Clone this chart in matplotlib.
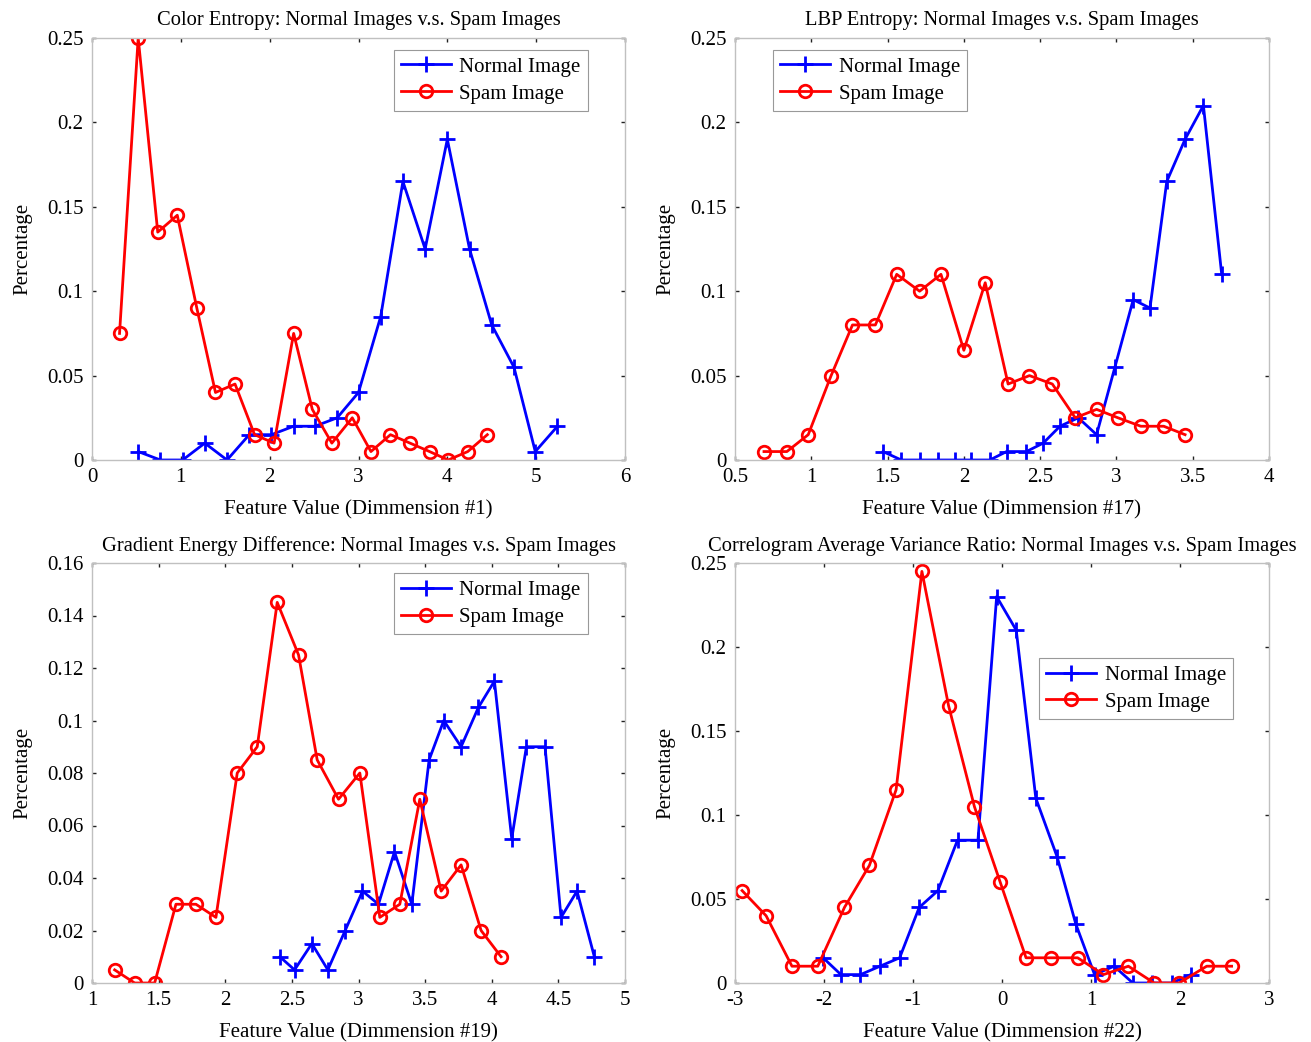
import matplotlib
matplotlib.use("Agg")
import matplotlib.pyplot as plt

plt.rcParams["font.family"] = ["Liberation Serif", "DejaVu Serif"]
plt.rcParams["font.size"] = 15

# Color Entropy (Dimmension #1)
ce_normal_x = [0.52, 0.77, 1.02, 1.27, 1.52, 1.77, 2.02, 2.27, 2.51, 2.76,
               3.00, 3.25, 3.50, 3.75, 4.00, 4.25, 4.50, 4.75, 4.99, 5.24]
ce_normal_y = [0.005, 0, 0, 0.01, 0, 0.015, 0.015, 0.02, 0.02, 0.025,
               0.04, 0.085, 0.165, 0.125, 0.19, 0.125, 0.08, 0.055, 0.005, 0.02]
ce_spam_x = [0.31, 0.52, 0.74, 0.96, 1.18, 1.39, 1.61, 1.83, 2.05, 2.27,
             2.48, 2.70, 2.93, 3.14, 3.36, 3.58, 3.80, 4.01, 4.23, 4.45]
ce_spam_y = [0.075, 0.25, 0.135, 0.145, 0.09, 0.04, 0.045, 0.015, 0.01, 0.075,
             0.03, 0.01, 0.025, 0.005, 0.015, 0.01, 0.005, 0, 0.005, 0.015]

# LBP Entropy (Dimmension #17)
lbp_normal_x = [1.47, 1.59, 1.71, 1.83, 1.94, 2.05, 2.17, 2.28, 2.41, 2.52,
                2.63, 2.75, 2.87, 2.99, 3.11, 3.22, 3.33, 3.45, 3.57, 3.69]
lbp_normal_y = [0.005, 0, 0, 0, 0, 0, 0, 0.005, 0.005, 0.01,
                0.02, 0.025, 0.015, 0.055, 0.095, 0.09, 0.165, 0.19, 0.21, 0.11]
lbp_spam_x = [0.69, 0.84, 0.98, 1.13, 1.27, 1.42, 1.56, 1.71, 1.85, 2.00,
              2.14, 2.29, 2.43, 2.58, 2.73, 2.87, 3.01, 3.16, 3.31, 3.45]
lbp_spam_y = [0.005, 0.005, 0.015, 0.05, 0.08, 0.08, 0.11, 0.1, 0.11, 0.065,
              0.105, 0.045, 0.05, 0.045, 0.025, 0.03, 0.025, 0.02, 0.02, 0.015]

# Gradient Energy Difference (Dimmension #19)
ged_normal_x = [2.41, 2.52, 2.65, 2.77, 2.90, 3.03, 3.15, 3.27, 3.40, 3.53,
                3.64, 3.77, 3.90, 4.02, 4.15, 4.26, 4.40, 4.52, 4.64, 4.77]
ged_normal_y = [0.01, 0.005, 0.015, 0.005, 0.02, 0.035, 0.03, 0.05, 0.03, 0.085,
                0.1, 0.09, 0.105, 0.115, 0.055, 0.09, 0.09, 0.025, 0.035, 0.01]
ged_spam_x = [1.17, 1.32, 1.47, 1.63, 1.78, 1.93, 2.09, 2.24, 2.39, 2.55,
              2.69, 2.85, 3.01, 3.16, 3.31, 3.46, 3.62, 3.77, 3.92, 4.07]
ged_spam_y = [0.005, 0, 0, 0.03, 0.03, 0.025, 0.08, 0.09, 0.145, 0.125,
              0.085, 0.07, 0.08, 0.025, 0.03, 0.07, 0.035, 0.045, 0.02, 0.01]

# Correlogram Average Variance Ratio (Dimmension #22)
cav_normal_x = [-2.01, -1.81, -1.59, -1.37, -1.15, -0.93, -0.72, -0.50, -0.27, -0.06,
                0.16, 0.38, 0.62, 0.83, 1.04, 1.26, 1.47, 1.69, 1.91, 2.12]
cav_normal_y = [0.015, 0.005, 0.005, 0.01, 0.015, 0.045, 0.055, 0.085, 0.085, 0.23,
                0.21, 0.11, 0.075, 0.035, 0.005, 0.01, 0, 0, 0, 0.005]
cav_spam_x = [-2.92, -2.65, -2.36, -2.07, -1.77, -1.49, -1.19, -0.90, -0.60, -0.31,
              -0.02, 0.27, 0.55, 0.85, 1.14, 1.42, 1.71, 1.99, 2.30, 2.58]
cav_spam_y = [0.055, 0.04, 0.01, 0.01, 0.045, 0.07, 0.115, 0.245, 0.165, 0.105,
              0.06, 0.015, 0.015, 0.015, 0.005, 0.01, 0, 0, 0.01, 0.01]

W, H = 1311, 1042
fig = plt.figure(figsize=(W / 100, H / 100), dpi=100)


def make_ax(left, top, right, bottom):
    return fig.add_axes([left / W, 1 - bottom / H, (right - left) / W, (bottom - top) / H])


def style(ax, title, xlabel, xlim, ylim, xticks, yticks, legend_loc, legend_anchor):
    ax.set_title(title, fontsize=14.8, pad=9)
    ax.set_xlabel(xlabel, fontsize=15, labelpad=9)
    ax.set_ylabel("Percentage", fontsize=15, labelpad=11)
    ax.set_xlim(xlim)
    ax.set_ylim(ylim)
    ax.set_xticks(xticks)
    ax.set_yticks(yticks)
    ax.set_xticklabels([("%g" % t) for t in xticks])
    ax.set_yticklabels([("%g" % t) for t in yticks])
    for s in ax.spines.values():
        s.set_color("#c0c0c0")
        s.set_linewidth(1.0)
    ax.tick_params(direction="in", top=True, right=True, length=3, width=1,
                   color="#222222", labelsize=15)
    ax.tick_params(axis="x", pad=6)
    ax.tick_params(axis="y", pad=6)
    leg = ax.legend(loc=legend_loc, bbox_to_anchor=legend_anchor, fontsize=15,
                    fancybox=False, framealpha=1, edgecolor="#999999",
                    handlelength=2.4, borderpad=0.35, labelspacing=0.35,
                    handletextpad=0.4, borderaxespad=0)
    leg.get_frame().set_linewidth(0.8)


def draw(ax, nx, ny, sx, sy):
    ax.plot(nx, ny, color="#0000ff", marker="+", markersize=11, markeredgewidth=2,
            linewidth=2, label="Normal Image")
    ax.plot(sx, sy, color="#ff0000", marker="o", markersize=9, markerfacecolor="none",
            markeredgewidth=2, linewidth=2, label="Spam Image")


ax1 = make_ax(92, 38, 625, 460)
draw(ax1, ce_normal_x, ce_normal_y, ce_spam_x, ce_spam_y)
style(ax1, "Color Entropy: Normal Images v.s. Spam Images", "Feature Value (Dimmension #1)",
      (0, 6), (0, 0.25), [0, 1, 2, 3, 4, 5, 6], [0, 0.05, 0.1, 0.15, 0.2, 0.25],
      "upper right", (0.93, 0.972))

ax2 = make_ax(735, 38, 1269, 460)
draw(ax2, lbp_normal_x, lbp_normal_y, lbp_spam_x, lbp_spam_y)
style(ax2, "LBP Entropy: Normal Images v.s. Spam Images", "Feature Value (Dimmension #17)",
      (0.5, 4), (0, 0.25), [0.5, 1, 1.5, 2, 2.5, 3, 3.5, 4], [0, 0.05, 0.1, 0.15, 0.2, 0.25],
      "upper left", (0.071, 0.972))

ax3 = make_ax(92, 563, 625, 983)
draw(ax3, ged_normal_x, ged_normal_y, ged_spam_x, ged_spam_y)
style(ax3, "Gradient Energy Difference: Normal Images v.s. Spam Images", "Feature Value (Dimmension #19)",
      (1, 5), (0, 0.16), [1, 1.5, 2, 2.5, 3, 3.5, 4, 4.5, 5],
      [0, 0.02, 0.04, 0.06, 0.08, 0.1, 0.12, 0.14, 0.16],
      "upper right", (0.93, 0.976))

ax4 = make_ax(735, 563, 1269, 983)
draw(ax4, cav_normal_x, cav_normal_y, cav_spam_x, cav_spam_y)
style(ax4, "Correlogram Average Variance Ratio: Normal Images v.s. Spam Images",
      "Feature Value (Dimmension #22)",
      (-3, 3), (0, 0.25), [-3, -2, -1, 0, 1, 2, 3], [0, 0.05, 0.1, 0.15, 0.2, 0.25],
      "upper right", (0.933, 0.774))

fig.savefig("out.png", dpi=100)
